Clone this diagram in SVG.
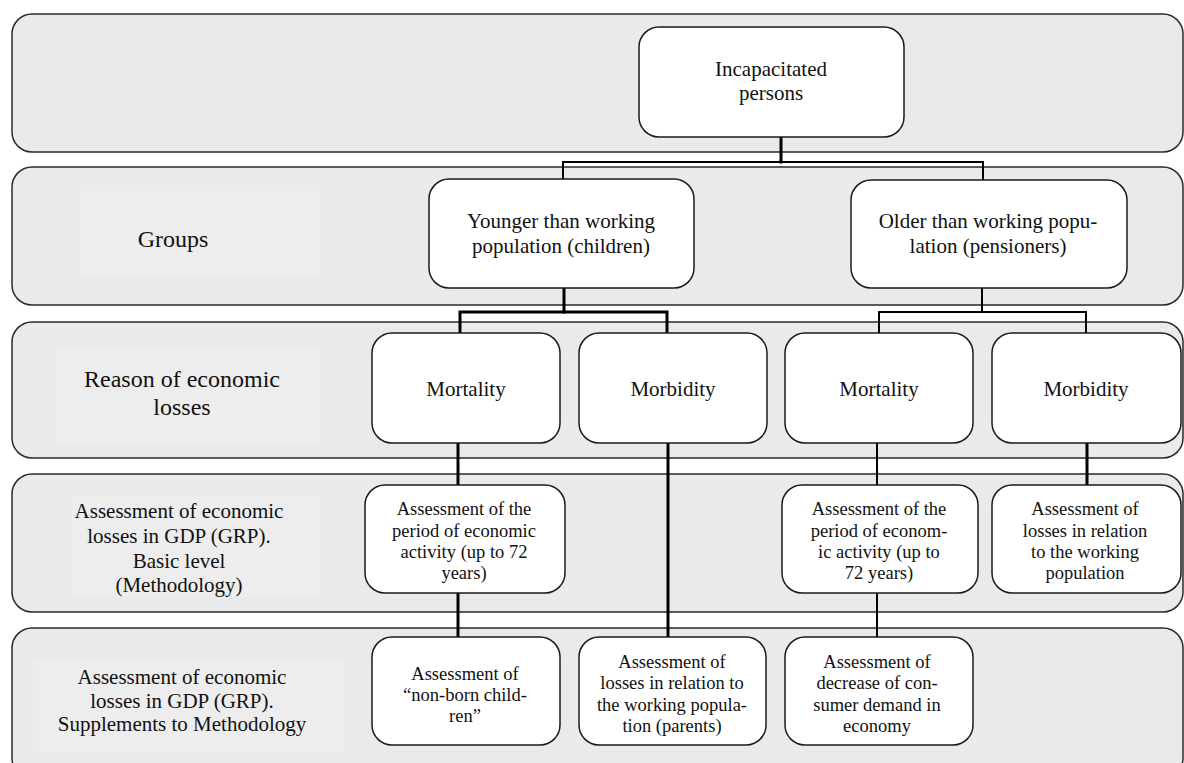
<svg xmlns="http://www.w3.org/2000/svg" width="1184" height="763" viewBox="0 0 1184 763">
<style>
.band{fill:#eaeaea;stroke:#2a2a2a;stroke-width:1.5}
.inner{fill:#ededed;stroke:none}
.box{fill:#ffffff;stroke:#1a1a1a;stroke-width:1.5}
.tx{fill:#111;text-anchor:middle}
.t21{font-size:21px}
.t24{font-size:24px}
.t18{font-size:18.5px}
.c{stroke:#000;fill:none;stroke-linecap:square}
.w3{stroke-width:3}
.w2{stroke-width:2}
</style>
<rect width="1184" height="763" fill="#ffffff"/>
<g id="bands">
<rect class="band" x="12" y="14" width="1171" height="138" rx="20"/>
<rect class="band" x="12" y="167" width="1171" height="138" rx="20"/>
<rect class="band" x="12" y="322" width="1171" height="136" rx="20"/>
<rect class="band" x="12" y="474" width="1171" height="138" rx="20"/>
<rect class="band" x="12" y="628" width="1171" height="150" rx="20"/>
<rect class="inner" x="80" y="185" width="240" height="93"/>
<rect class="inner" x="55" y="350" width="265" height="92"/>
<rect class="inner" x="72" y="495" width="248" height="102"/>
<rect class="inner" x="33" y="660" width="312" height="93"/>
</g>
<g font-family="'Liberation Serif', 'Times New Roman', 'DejaVu Serif', serif">
<g id="labels">
<text class="tx t24" x="173" y="247">Groups</text>
<text class="tx t24" x="182" y="387">Reason of economic</text>
<text class="tx t24" x="182" y="415">losses</text>
<text class="tx t21" x="179" y="518">Assessment of economic</text>
<text class="tx t21" x="179" y="543">losses in GDP (GRP).</text>
<text class="tx t21" x="179" y="568">Basic level</text>
<text class="tx t21" x="179" y="592">(Methodology)</text>
<text class="tx t21" x="182" y="684">Assessment of economic</text>
<text class="tx t21" x="182" y="708">losses in GDP (GRP).</text>
<text class="tx t21" x="182" y="731">Supplements to Methodology</text>
</g>
<g id="connectors">
<line class="c w3" x1="781" y1="137" x2="781" y2="162"/>
<polyline class="c w2" points="563,179 563,162 983,162 983,180"/>
<line class="c w3" x1="564" y1="288" x2="564" y2="312"/>
<polyline class="c w3" points="460,333 460,312 667,312 667,333"/>
<line class="c w2" x1="982" y1="288" x2="982" y2="312"/>
<polyline class="c w2" points="879,333 879,312 1086,312 1086,333"/>
<line class="c w3" x1="458" y1="443" x2="458" y2="485"/>
<line class="c w3" x1="458" y1="593" x2="458" y2="637"/>
<line class="c w3" x1="668" y1="443" x2="668" y2="637"/>
<line class="c w2" x1="877" y1="443" x2="877" y2="485"/>
<line class="c w2" x1="877" y1="593" x2="877" y2="637"/>
<line class="c w3" x1="1087" y1="443" x2="1087" y2="485"/>
</g>
<g id="incapacitated">
<rect class="box" x="639" y="27" width="265" height="110" rx="20"/>
<text class="tx t21" x="771" y="76">Incapacitated</text>
<text class="tx t21" x="771" y="100">persons</text>
</g>
<g id="younger">
<rect class="box" x="429" y="179" width="265" height="109" rx="20"/>
<text class="tx t21" x="561" y="228">Younger than working</text>
<text class="tx t21" x="561" y="253">population (children)</text>
</g>
<g id="older">
<rect class="box" x="851" y="180" width="276" height="108" rx="20"/>
<text class="tx t21" x="988" y="228">Older than working popu-</text>
<text class="tx t21" x="988" y="253">lation (pensioners)</text>
</g>
<g id="mortality-children">
<rect class="box" x="372" y="333" width="188" height="110" rx="20"/>
<text class="tx t21" x="466" y="396">Mortality</text>
</g>
<g id="morbidity-children">
<rect class="box" x="579" y="333" width="188" height="110" rx="20"/>
<text class="tx t21" x="673" y="396">Morbidity</text>
</g>
<g id="mortality-pensioners">
<rect class="box" x="785" y="333" width="188" height="110" rx="20"/>
<text class="tx t21" x="879" y="396">Mortality</text>
</g>
<g id="morbidity-pensioners">
<rect class="box" x="992" y="333" width="189" height="110" rx="20"/>
<text class="tx t21" x="1086" y="396">Morbidity</text>
</g>
<g id="period-children">
<rect class="box" x="365" y="485" width="200" height="108" rx="20"/>
<text class="tx t18" x="464" y="515">Assessment of the</text>
<text class="tx t18" x="464" y="537">period of economic</text>
<text class="tx t18" x="464" y="558">activity (up to 72</text>
<text class="tx t18" x="464" y="579">years)</text>
</g>
<g id="period-pensioners">
<rect class="box" x="782" y="485" width="196" height="108" rx="20"/>
<text class="tx t18" x="879" y="515">Assessment of the</text>
<text class="tx t18" x="879" y="537">period of econom-</text>
<text class="tx t18" x="879" y="558">ic activity (up to</text>
<text class="tx t18" x="879" y="579">72 years)</text>
</g>
<g id="losses-working">
<rect class="box" x="992" y="485" width="189" height="108" rx="20"/>
<text class="tx t18" x="1085" y="515">Assessment of</text>
<text class="tx t18" x="1085" y="537">losses in relation</text>
<text class="tx t18" x="1085" y="558">to the working</text>
<text class="tx t18" x="1085" y="579">population</text>
</g>
<g id="non-born">
<rect class="box" x="372" y="637" width="188" height="108" rx="20"/>
<text class="tx t18" x="465" y="680">Assessment of</text>
<text class="tx t18" x="465" y="701">“non-born child-</text>
<text class="tx t18" x="465" y="722">ren”</text>
</g>
<g id="losses-parents">
<rect class="box" x="579" y="637" width="187" height="108" rx="20"/>
<text class="tx t18" x="672" y="668">Assessment of</text>
<text class="tx t18" x="672" y="689">losses in relation to</text>
<text class="tx t18" x="672" y="711">the working popula-</text>
<text class="tx t18" x="672" y="732">tion (parents)</text>
</g>
<g id="consumer-demand">
<rect class="box" x="785" y="637" width="188" height="108" rx="20"/>
<text class="tx t18" x="877" y="668">Assessment of</text>
<text class="tx t18" x="877" y="689">decrease of con-</text>
<text class="tx t18" x="877" y="711">sumer demand in</text>
<text class="tx t18" x="877" y="732">economy</text>
</g>
</g>
</svg>
